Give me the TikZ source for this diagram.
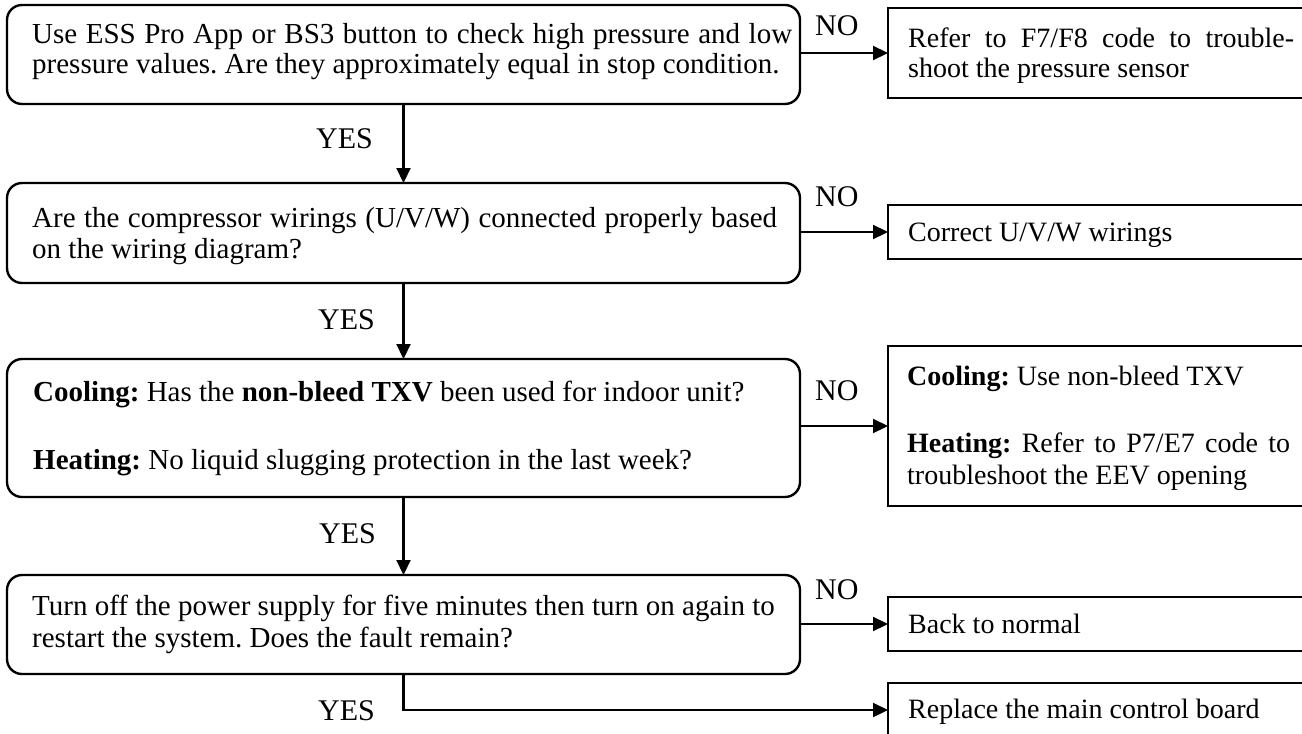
\documentclass[tikz,border=0pt]{standalone}
\usepackage{fontspec}
\setmainfont{Liberation Serif}
\usetikzlibrary{arrows.meta}
\frenchspacing
\newcommand\qfont{\fontsize{29}{31}\selectfont}
\newcommand\afont{\fontsize{28}{31}\selectfont}
\newcommand\lfont{\fontsize{30}{32}\selectfont}
\begin{document}
\begin{tikzpicture}[x=1pt,y=-1pt,
  qbox/.style={draw,line width=2.4pt,rounded corners=15pt,inner sep=0pt,outer sep=0pt,minimum width=793pt},
  abox/.style={draw,line width=2.4pt,inner sep=0pt,outer sep=0pt,minimum width=422pt},
  qtxt/.style={anchor=base west,inner sep=0pt,font=\qfont},
  atxt/.style={anchor=base west,inner sep=0pt,font=\afont},
  lbl/.style={anchor=base west,inner sep=0pt,font=\lfont},
  arr/.style={line width=2.2pt,-{Triangle[length=15pt,width=14pt]}},
  ln/.style={line width=2.2pt}]
\useasboundingbox (0,0) rectangle (1302,734);
% question boxes
\node[qbox,minimum height=99pt] (b1) at (403.5,54.5) {};
\node[qbox,minimum height=100pt] (b2) at (403.5,233) {};
\node[qbox,minimum height=138pt] (b3) at (403.5,428) {};
\node[qbox,minimum height=99pt] (b4) at (403.5,624.5) {};
% answer boxes
\node[abox,minimum height=90pt] (r1) at (1099,53) {};
\node[abox,minimum height=54pt] (r2) at (1099,232) {};
\node[abox,minimum height=160pt] (r3) at (1099,426) {};
\node[abox,minimum height=54pt] (r4) at (1099,624) {};
\node[abox,minimum height=54pt] (r5) at (1099,710) {};
% texts
\node[qtxt] (t1) at (32,43) {\vtop{\baselineskip=30pt
  \hbox{\makebox[760pt][s]{Use ESS Pro App or BS3 button to check high pressure and low}}
  \hbox{pressure values. Are they approximately equal in stop condition.}}};
\node[qtxt] (t2) at (32,227) {\vtop{\baselineskip=31pt
  \hbox{\makebox[745pt][s]{Are the compressor wirings (U/V/W) connected properly based}}
  \hbox{on the wiring diagram?}}};
\node[qtxt] (t3) at (33,401) {\vtop{\baselineskip=68pt
  \hbox{\textbf{Cooling:} Has the \textbf{non-bleed TXV} been used for indoor unit?}
  \hbox{\textbf{Heating:} No liquid slugging protection in the last week?}}};
\node[qtxt] (t4) at (32,615) {\vtop{\baselineskip=32pt
  \hbox{Turn off the power supply for five minutes then turn on again to}
  \hbox{restart the system. Does the fault remain?}}};
\node[atxt] (u1) at (908,47) {\vtop{\baselineskip=30pt
  \hbox{\makebox[386pt][s]{Refer to F7/F8 code to trouble-}}
  \hbox{shoot the pressure sensor}}};
\node[atxt] (u2) at (908,241) {Correct U/V/W wirings};
\node[atxt] (u3) at (907,385) {\vtop{\baselineskip=32pt
  \hbox{\textbf{Cooling:} Use non-bleed TXV}\vskip35pt
  \hbox{\makebox[383pt][s]{\textbf{Heating:} Refer to P7/E7 code to}}
  \hbox{troubleshoot the EEV opening}}};
\node[atxt] (u4) at (908,633) {Back to normal};
\node[atxt] (u5) at (908,718) {Replace the main control board};
% labels
\node[lbl] (y1) at (316,148) {YES};
\node[lbl] (y2) at (318,329) {YES};
\node[lbl] (y3) at (319,543) {YES};
\node[lbl] (y4) at (318,720) {YES};
\node[lbl] (n1) at (815,35) {NO};
\node[lbl] (n2) at (815,206) {NO};
\node[lbl] (n3) at (815,400) {NO};
\node[lbl] (n4) at (815,599) {NO};
% connectors
\draw[arr] (b1.south) -- (b2.north);
\draw[arr] (b2.south) -- (b3.north);
\draw[arr] (b3.south) -- (b4.north);
\draw[arr] (b4.south) |- (r5.west);
\draw[arr] (b1.east |- r1.west) -- (r1.west);
\draw[arr] (b2.east |- r2.west) -- (r2.west);
\draw[arr] (b3.east |- r3.west) -- (r3.west);
\draw[arr] (b4.east |- r4.west) -- (r4.west);
\end{tikzpicture}
\end{document}
